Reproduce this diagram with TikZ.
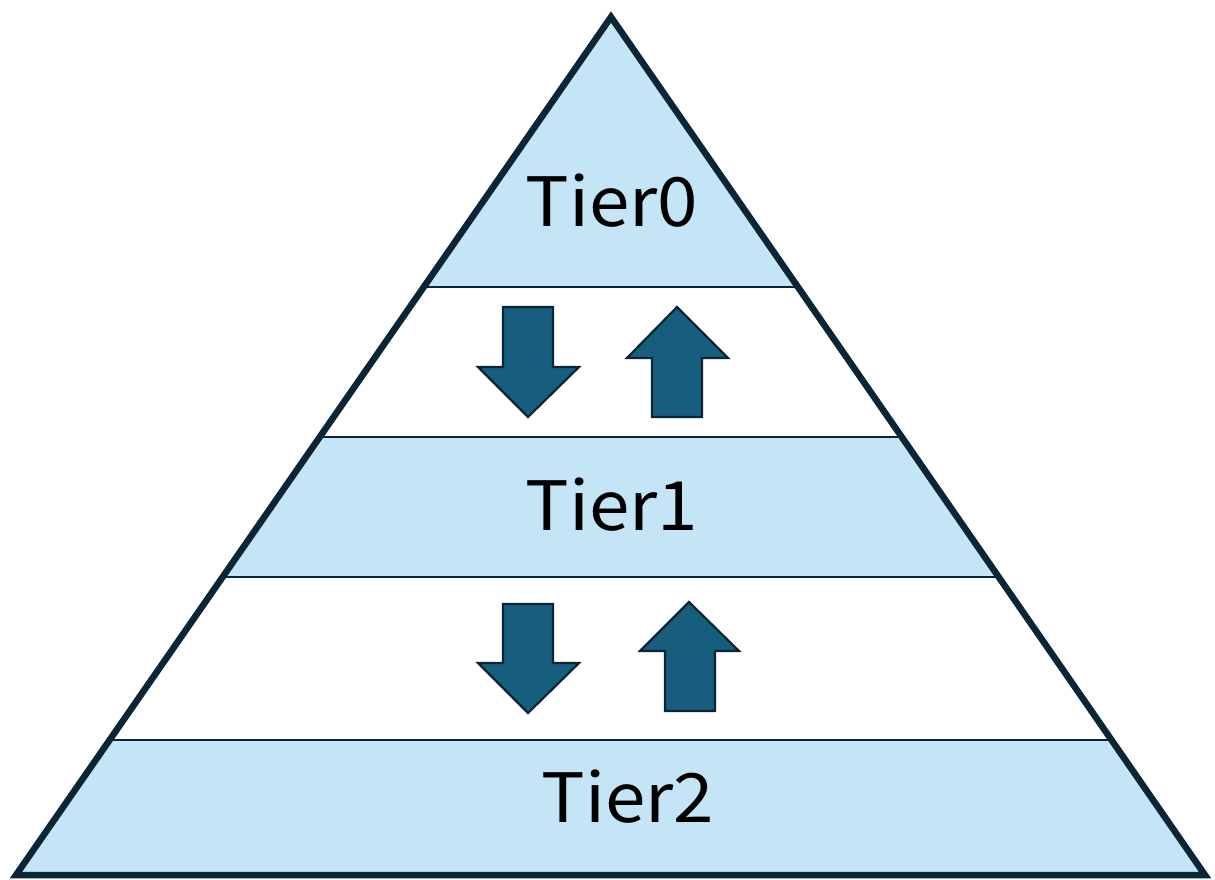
\documentclass[tikz,border=0pt]{standalone}
\usepackage{fontspec}
\newfontfamily\tierfont{Noto Sans CJK JP}
\definecolor{edge}{HTML}{0A2535}
\definecolor{tierfill}{HTML}{C3E5F5}
\definecolor{arrowfill}{HTML}{175D7E}
\tikzset{
  bandline/.style={draw=edge, line width=2.4pt},
  outline/.style={draw=edge, line width=6.5pt, line join=miter},
  blockarrow/.style={fill=arrowfill, draw=edge, line width=2.2pt, line join=miter},
  tierlabel/.style={font=\tierfont\fontsize{68}{74}\selectfont, text=black,
    inner sep=0pt, xscale=1.07}
}
\begin{document}
\begin{tikzpicture}[x=1pt,y=-1pt]
  \useasboundingbox (0,0) rectangle (1215,879);
  % pyramid corners
  \coordinate (apex) at (611,17);
  \coordinate (bl) at (16,875);
  \coordinate (br) at (1205,875);
  % light-blue body with white bands between the tiers
  \fill[tierfill] (apex) -- (bl) -- (br) -- cycle;
  \begin{scope}
    \clip (apex) -- (bl) -- (br) -- cycle;
    \fill[white] (0,287) rectangle (1215,437);
    \fill[white] (0,577) rectangle (1215,740);
    \foreach \yy in {287,437,577,740}
      \draw[bandline] (0,\yy) -- (1215,\yy);
  \end{scope}
  \draw[outline] (apex) -- (bl) -- (br) -- cycle;
  % tier labels
  \node[tierlabel] (t0) at (612,201) {Tier0};
  \node[tierlabel] (t1) at (612,505) {Tier1};
  \node[tierlabel] (t2) at (628,797) {Tier2};
  % arrows between Tier0 and Tier1
  \draw[blockarrow] (503,307) -- (553,307) -- (553,367) -- (579,367) -- (528,417)
    -- (478,367) -- (503,367) -- cycle;
  \draw[blockarrow] (677,307) -- (728,358) -- (702,358) -- (702,417) -- (652,417)
    -- (652,358) -- (627,358) -- cycle;
  % arrows between Tier1 and Tier2
  \draw[blockarrow] (503,604) -- (553,604) -- (553,663) -- (579,663) -- (528,713)
    -- (478,663) -- (503,663) -- cycle;
  \draw[blockarrow] (689,602) -- (739,651) -- (715,651) -- (715,711) -- (665,711)
    -- (665,651) -- (640,651) -- cycle;
\end{tikzpicture}
\end{document}
